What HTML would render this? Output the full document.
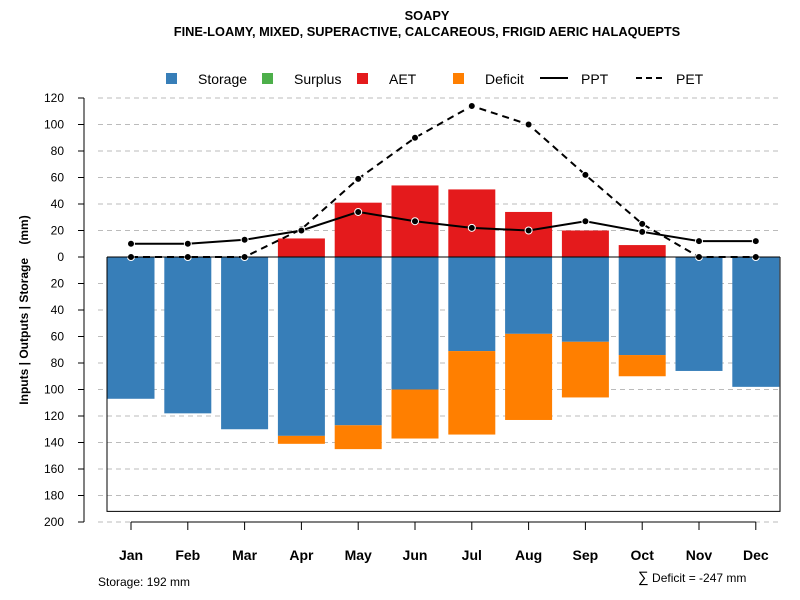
<!DOCTYPE html>
<html><head><meta charset="utf-8"><style>
body{margin:0;background:#fff;}
svg{display:block;font-family:"Liberation Sans",Arial,sans-serif;}
</style></head><body>
<svg id="chart" width="800" height="600">
<text x="427" y="20" text-anchor="middle" font-size="12.8" font-weight="bold">SOAPY</text>
<text x="427" y="36" text-anchor="middle" font-size="12.8" font-weight="bold">FINE-LOAMY, MIXED, SUPERACTIVE, CALCAREOUS, FRIGID AERIC HALAQUEPTS</text>
<g id="grid"></g>
<g id="bars"></g>
<g id="lines"></g>
<g id="axes"></g>
<text transform="translate(28,310) rotate(-90)" text-anchor="middle" font-size="12" font-weight="bold" xml:space="preserve">Inputs | Outputs | Storage    (mm)</text>
<text x="98" y="586" font-size="12">Storage: 192 mm</text>
<text x="638" y="582" font-size="12"><tspan font-size="15">∑</tspan> Deficit = -247 mm</text>
<g id="legend">
<rect x="166" y="73" width="11" height="11" fill="#377eb8"/>
<text x="198" y="84" font-size="14">Storage</text>
<rect x="262" y="73" width="11" height="11" fill="#4daf4a"/>
<text x="294" y="84" font-size="14">Surplus</text>
<rect x="357" y="73" width="11" height="11" fill="#e41a1c"/>
<text x="389" y="84" font-size="14">AET</text>
<rect x="453" y="73" width="11" height="11" fill="#ff7f00"/>
<text x="485" y="84" font-size="14">Deficit</text>
<line x1="540" y1="78" x2="568" y2="78" stroke="#000" stroke-width="2"/>
<text x="581" y="84" font-size="14">PPT</text>
<line x1="636" y1="78" x2="664" y2="78" stroke="#000" stroke-width="2" stroke-dasharray="6,4"/>
<text x="676" y="84" font-size="14">PET</text>
</g>
</svg>
<script>
const months=["Jan","Feb","Mar","Apr","May","Jun","Jul","Aug","Sep","Oct","Nov","Dec"];
const storage=[107,118,130,135,127,100,71,58,64,74,86,98];
const deficit=[0,0,0,6,18,37,63,65,42,16,0,0];
const aet=[0,0,0,14,41,54,51,34,20,9,0,0];
const ppt=[10,10,13,20,34,27,22,20,27,19,12,12];
const pet=[0,0,0,21,59,90,114,100,62,25,0,0];
const yTicks=[120,100,80,60,40,20,0,20,40,60,80,100,120,140,160,180,200];
const yTickVals=[120,100,80,60,40,20,0,-20,-40,-60,-80,-100,-120,-140,-160,-180,-200];
const storageMax=192;
const NS="http://www.w3.org/2000/svg";
const y=v=>257-v*1.325;
const x=i=>131+i*56.8;
const bw=47;
function mk(p,t,a){const e=document.createElementNS(NS,t);for(const k in a)e.setAttribute(k,a[k]);document.getElementById(p).appendChild(e);return e;}
yTickVals.forEach((v,i)=>{
  if(v!==0){const g=mk('grid','line',{x1:98,x2:780,y1:y(v),y2:y(v),stroke:'#bbb','stroke-dasharray':'5,4'});
  
  }
  const t=mk('axes','line',{x1:78,x2:84,y1:y(v),y2:y(v),stroke:'#000'});
  
  
  const l=mk('axes','text',{x:64,y:y(v)+4,'text-anchor':'end','font-size':12});
  l.textContent=yTicks[i];
  
  
});
const ya=mk('axes','line',{x1:84,x2:84,y1:y(120),y2:y(-200),stroke:'#000'});


months.forEach((m,i)=>{
  const cx=x(i);
  const s=mk('bars','rect',{x:cx-bw/2,y:y(0),width:bw,height:y(-storage[i])-y(0),fill:'#377eb8'});
  
  
  if(deficit[i]>0){const d=mk('bars','rect',{x:cx-bw/2,y:y(-storage[i]),width:bw,height:y(-storage[i]-deficit[i])-y(-storage[i]),fill:'#ff7f00'});
  
  }
  if(aet[i]>0){const a=mk('bars','rect',{x:cx-bw/2,y:y(aet[i]),width:bw,height:y(0)-y(aet[i]),fill:'#e41a1c'});
  
  }
  const t=mk('axes','line',{x1:cx,x2:cx,y1:522,y2:530,stroke:'#000'});
  
  
  const l=mk('axes','text',{x:cx,y:560,'text-anchor':'middle','font-size':14,'font-weight':'bold'});
  l.textContent=m;
  
  
});
const xa=mk('axes','line',{x1:x(0),x2:x(11),y1:522,y2:522,stroke:'#000'});


const box=mk('axes','path',{d:`M107,${y(0)} V${y(-storageMax)} H780 V${y(0)}`,fill:'none',stroke:'#000'});


const zl=mk('axes','line',{x1:107,x2:780,y1:y(0),y2:y(0),stroke:'#000'});


function series(arr,name,dash){
  const pl=mk('lines','polyline',{points:arr.map((v,i)=>x(i)+','+y(v)).join(' '),fill:'none',stroke:'#000','stroke-width':2,'stroke-dasharray':dash});
  
  
  arr.forEach((v,i)=>{const c=mk('lines','circle',{cx:x(i),cy:y(v),r:3.5,fill:'#000',stroke:'#fff','stroke-width':1});
  
  });
}
series(pet,'pet','7,5');
series(ppt,'ppt','none');
</script>
</body></html>
